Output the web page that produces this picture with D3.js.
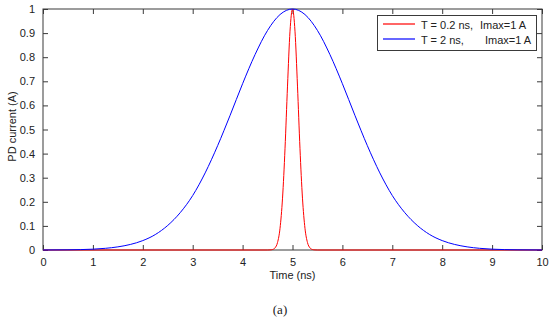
<!DOCTYPE html>
<html>
<head>
<meta charset="utf-8">
<script src="https://cdn.jsdelivr.net/npm/d3@7"></script>
<style>
  html, body { margin: 0; padding: 0; background: #fff; }
  svg { display: block; }
  text { font-family: "Liberation Sans", Arial, sans-serif; fill: #222; }
</style>
</head>
<body>
<svg id="chart" width="550" height="324"></svg>
<script>
// ---- data ----
const xTicks = [0, 1, 2, 3, 4, 5, 6, 7, 8, 9, 10];
const yTicks = [0, 0.1, 0.2, 0.3, 0.4, 0.5, 0.6, 0.7, 0.8, 0.9, 1];
const yTickLabels = ["0", "0.1", "0.2", "0.3", "0.4", "0.5", "0.6", "0.7", "0.8", "0.9", "1"];

// blue pulse, T = 2 ns
const blueTime = [0, 0.5, 1, 1.25, 1.5, 1.75, 2, 2.25, 2.5, 2.75, 3, 3.25, 3.5, 3.75, 4, 4.25, 4.5, 4.75, 5,
                  5.25, 5.5, 5.75, 6, 6.25, 6.5, 6.75, 7, 7.25, 7.5, 7.75, 8, 8.25, 8.5, 8.75, 9, 9.5, 10];
const blueCurrent = [0.0001, 0.0008, 0.0035, 0.007, 0.013, 0.023, 0.039, 0.064, 0.102, 0.155, 0.226, 0.32, 0.433, 0.559, 0.69, 0.811, 0.911, 0.977, 1.0,
                     0.977, 0.911, 0.811, 0.69, 0.559, 0.433, 0.32, 0.226, 0.155, 0.102, 0.064, 0.039, 0.023, 0.013, 0.007, 0.0035, 0.0008, 0.0001];

// red pulse, T = 0.2 ns
const redTime = [0, 4.5, 4.55, 4.6, 4.65, 4.7, 4.75, 4.8, 4.85, 4.9, 4.95, 5, 5.05, 5.1, 5.15, 5.2, 5.25, 5.3, 5.35, 5.4, 5.45, 5.5, 10];
const redCurrent = [0, 0, 0.0004, 0.002, 0.009, 0.031, 0.09, 0.215, 0.42, 0.68, 0.908, 1.0, 0.908, 0.68, 0.42, 0.215, 0.09, 0.031, 0.009, 0.002, 0.0004, 0, 0];

const seriesNames = ["T = 0.2 ns,", "T = 2 ns,"];
const seriesImax = ["Imax=1 A", "Imax=1 A"];
const seriesColors = ["#ff0000", "#0000ff"];

// ---- layout ----
const margin = { left: 43, right: 8, top: 9, bottom: 74 };
const W = 550, H = 324;
const svg = d3.select("#chart");
const x = d3.scaleLinear().domain([0, 10]).range([margin.left, W - margin.right]);
const y = d3.scaleLinear().domain([0, 1]).range([H - margin.bottom, margin.top]);
const frameColor = "#3a3a3a";
const tickLen = 5;

const redData = redTime.map((t, i) => [t, redCurrent[i]]);
const blueData = blueTime.map((t, i) => [t, blueCurrent[i]]);

// axes (ticks inward, on all four sides)
const axB = d3.axisBottom(x).tickValues(xTicks).tickSizeInner(-tickLen).tickSizeOuter(0).tickPadding(8).tickFormat(d3.format("d"));
const axT = d3.axisTop(x).tickValues(xTicks).tickSizeInner(-tickLen).tickSizeOuter(0).tickFormat("");
const axL = d3.axisLeft(y).tickValues(yTicks).tickSizeInner(-tickLen).tickSizeOuter(0).tickPadding(8).tickFormat((d, i) => yTickLabels[i]);
const axR = d3.axisRight(y).tickValues(yTicks).tickSizeInner(-tickLen).tickSizeOuter(0).tickFormat("");

function style(g) {
  g.select(".domain").remove();
  g.selectAll(".tick line").attr("stroke", frameColor);
  g.selectAll("text").attr("font-size", 11).attr("fill", "#222")
    .style("font-family", '"Liberation Sans", Arial, sans-serif');
}
svg.append("g").attr("transform", `translate(0,${y(0)})`).call(axB).call(style);
svg.append("g").attr("transform", `translate(0,${y(1)})`).call(axT).call(style);
svg.append("g").attr("transform", `translate(${x(0)},0)`).call(axL).call(style);
svg.append("g").attr("transform", `translate(${x(10)},0)`).call(axR).call(style);

// frame
svg.append("rect").attr("x", x(0)).attr("y", y(1))
  .attr("width", x(10) - x(0)).attr("height", y(0) - y(1))
  .attr("fill", "none").attr("stroke", frameColor).attr("stroke-width", 1);

// curves
const curveGen = d3.line().x(d => x(d[0])).y(d => y(d[1])).curve(d3.curveMonotoneX);
svg.append("path").attr("d", curveGen(redData)).attr("fill", "none")
  .attr("stroke", seriesColors[0]).attr("stroke-width", 1);
svg.append("path").attr("d", curveGen(blueData)).attr("fill", "none")
  .attr("stroke", seriesColors[1]).attr("stroke-width", 1);

// axis labels
svg.append("text").attr("x", (x(0) + x(10)) / 2).attr("y", 279)
  .attr("text-anchor", "middle").attr("font-size", 11).text("Time (ns)");
svg.append("text").attr("transform", `translate(16,${(y(0) + y(1)) / 2 - 3}) rotate(-90)`)
  .attr("text-anchor", "middle").attr("font-size", 11).text("PD current (A)");

// legend
const lg = svg.append("g");
lg.append("rect").attr("x", 377.5).attr("y", 15.5).attr("width", 159).attr("height", 35)
  .attr("fill", "#fff").attr("stroke", frameColor).attr("stroke-width", 1);
const imaxX = [480, 485];
seriesNames.forEach((name, i) => {
  const yy = 24 + i * 15;
  lg.append("line").attr("x1", 383).attr("x2", 415).attr("y1", yy).attr("y2", yy)
    .attr("stroke", seriesColors[i]).attr("stroke-width", 1.2);
  lg.append("text").attr("x", 421).attr("y", yy + 4.5).attr("font-size", 11).text(name);
  lg.append("text").attr("x", imaxX[i]).attr("y", yy + 4.5).attr("font-size", 11).text(seriesImax[i]);
});

// caption
svg.append("text").attr("x", 280).attr("y", 314).attr("text-anchor", "middle")
  .attr("font-size", 13).style("font-family", '"Liberation Serif", "Times New Roman", serif')
  .attr("fill", "#000").text("(a)");
</script>
</body>
</html>
